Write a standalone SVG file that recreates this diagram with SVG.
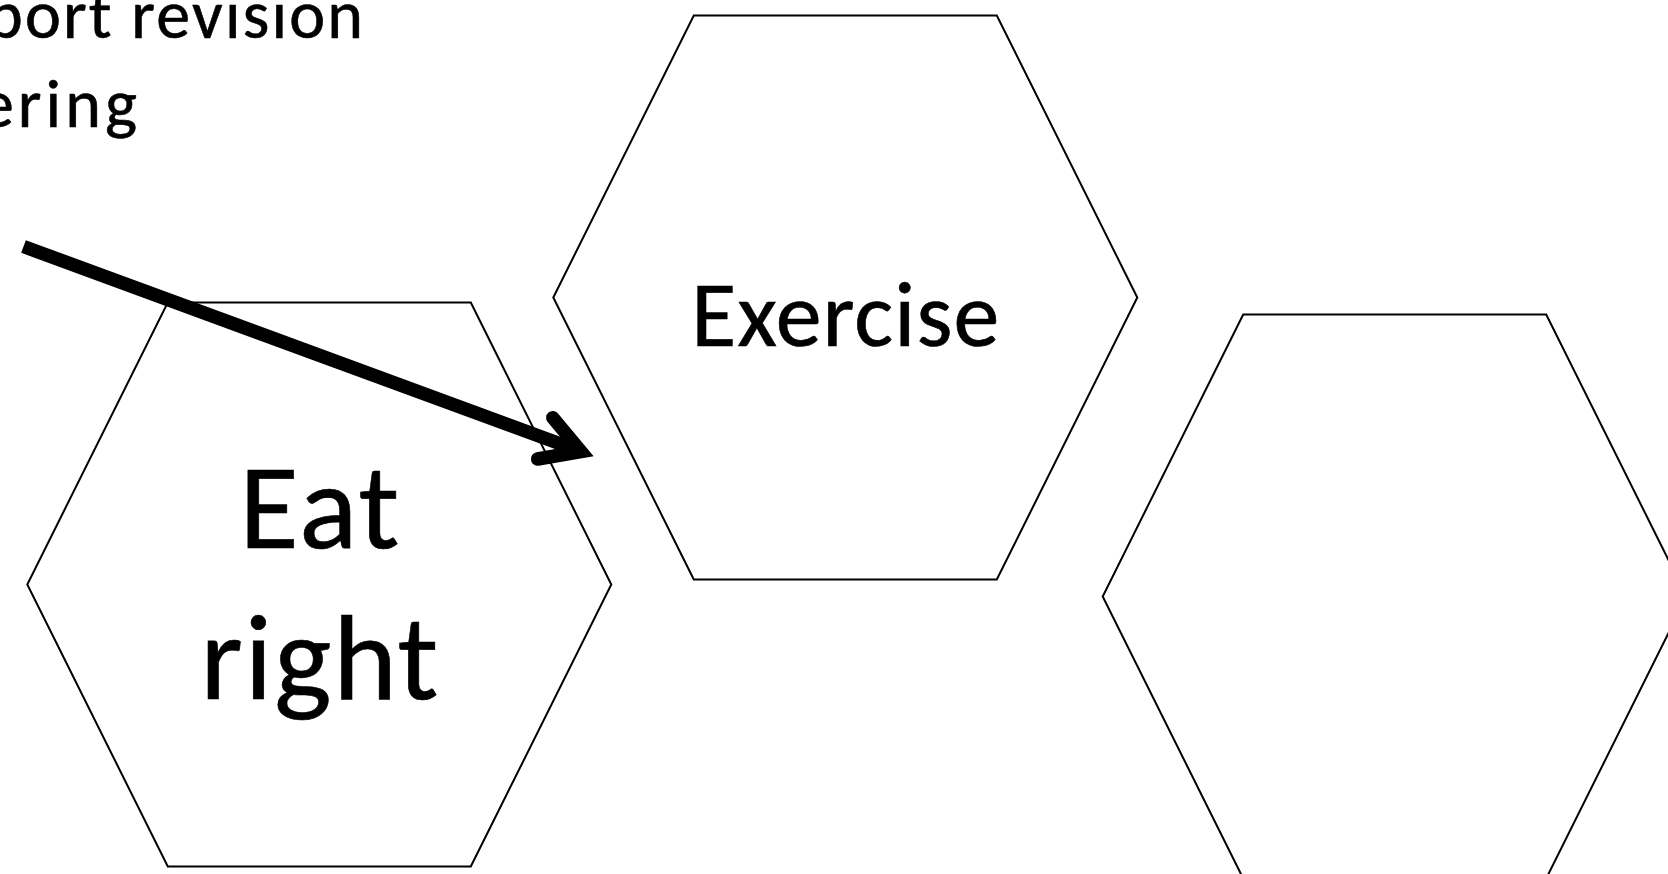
<svg xmlns="http://www.w3.org/2000/svg" width="1668" height="874" viewBox="0 0 1668 874">
  <style>
    .hex { fill: #ffffff; stroke: #000000; stroke-width: 2; stroke-linejoin: miter; }
    .lbl { font-family: Carlito, Lato, "Liberation Sans", sans-serif; fill: #000000; stroke: #000000; stroke-width: 0.6; }
    .conn { fill: none; stroke: #000000; stroke-width: 13.5; }
  </style>
  <defs>
    <marker id="openArrow" viewBox="-60 -40 80 80" refX="0" refY="0" markerWidth="80" markerHeight="80" markerUnits="userSpaceOnUse" orient="auto" overflow="visible">
      <path d="M-38.1,-22 L0,0 L-38.1,22" fill="none" stroke="#000000" stroke-width="13.5" stroke-linecap="round" stroke-linejoin="miter" stroke-miterlimit="10"/>
    </marker>
  </defs>
  <rect x="0" y="0" width="1668" height="874" fill="#ffffff"/>

  <g id="title-text">
    <text class="lbl" x="-13" y="38" font-size="68" textLength="376" lengthAdjust="spacing">port revision</text>
    <text class="lbl" x="-20" y="127" font-size="68" textLength="157" lengthAdjust="spacing">ering</text>
  </g>

  <g id="node-eat-right">
    <polygon class="hex" points="167.8,302.5 470.8,302.5 611.3,584.5 470.8,866.5 167.8,866.5 27.3,584.5"/>
    <text class="lbl" x="319.3" y="548" font-size="122" text-anchor="middle" textLength="160" lengthAdjust="spacing">Eat</text>
    <text class="lbl" x="319.3" y="699" font-size="122" text-anchor="middle" textLength="238" lengthAdjust="spacing">right</text>
  </g>

  <g id="node-exercise">
    <polygon class="hex" points="693.8,15.5 996.8,15.5 1137.3,297.5 996.8,579.5 693.8,579.5 553.3,297.5"/>
    <text class="lbl" x="845.3" y="345.7" font-size="92" text-anchor="middle" textLength="308" lengthAdjust="spacing">Exercise</text>
  </g>

  <g id="node-empty">
    <polygon class="hex" points="1243.2,314.5 1546.2,314.5 1686.7,596.5 1546.2,878.5 1243.2,878.5 1102.7,596.5"/>
  </g>

  <g id="connectors">
    <path class="conn" d="M23.5,246.5 L581,451.5" marker-end="url(#openArrow)"/>
  </g>
</svg>
